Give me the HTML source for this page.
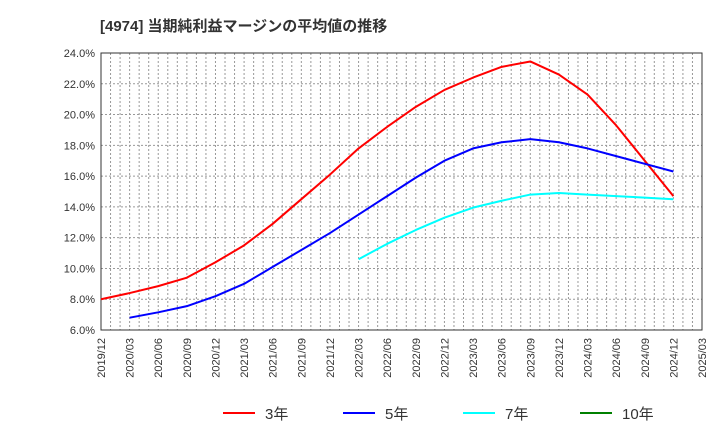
<!DOCTYPE html>
<html><head><meta charset="utf-8"><style>
body{margin:0;background:#fff;font-family:"Liberation Sans","Noto Sans CJK JP",sans-serif}
svg text{font-family:"Liberation Sans","Noto Sans CJK JP",sans-serif}
</style></head><body>
<svg id="c" width="720" height="440" xmlns="http://www.w3.org/2000/svg">
<text x="100" y="31" font-size="15" font-weight="bold" fill="#333">[4974]  当期純利益マージンの平均値の推移</text>
<g id="grid"></g><g id="axes"></g><g id="series"></g><g id="legend"></g>
</svg>
<script>
const xLabels=["2019/12","2020/03","2020/06","2020/09","2020/12","2021/03","2021/06","2021/09","2021/12","2022/03","2022/06","2022/09","2022/12","2023/03","2023/06","2023/09","2023/12","2024/03","2024/06","2024/09","2024/12","2025/03"];
const yTicks=[6,8,10,12,14,16,18,20,22,24];
const s3=[8.0,8.4,8.85,9.4,10.4,11.5,12.9,14.5,16.1,17.8,19.2,20.5,21.6,22.4,23.1,23.45,22.6,21.3,19.3,17.0,14.7];
const s5=[null,6.8,7.15,7.55,8.2,9.0,10.1,11.2,12.3,13.5,14.7,15.9,17.0,17.8,18.2,18.4,18.2,17.8,17.3,16.8,16.3];
const s7=[null,null,null,null,null,null,null,null,null,10.6,11.6,12.5,13.3,13.95,14.4,14.8,14.9,14.8,14.7,14.6,14.5];
const s10=[];
const L=101,R=702,T=53,B=330,NS="http://www.w3.org/2000/svg";
const xs=i=>L+i*3*(R-L)/63;
const ys=v=>B-(v-6)/18*(B-T);
function mk(t,a,p){const e=document.createElementNS(NS,t);for(const k in a)e.setAttribute(k,a[k]);p.appendChild(e);return e;}
const g=document.getElementById('grid'),ax=document.getElementById('axes'),se=document.getElementById('series'),lg=document.getElementById('legend');
for(let m=1;m<63;m++){const x=L+m*(R-L)/63;const l=mk('line',{x1:x,x2:x,y1:T,y2:B,stroke:'#999','stroke-dasharray':'2,2','stroke-width':1},g);

}
yTicks.forEach(v=>{const y=ys(v);const l=mk('line',{x1:L,x2:R,y1:y,y2:y,stroke:'#999','stroke-dasharray':'2,2','stroke-width':1},g);


const t=mk('text',{x:L-6,y:y+4,'text-anchor':'end','font-size':11,fill:'#333'},ax);t.textContent=v.toFixed(1)+'%';

});
const fr=mk('rect',{x:L,y:T,width:R-L,height:B-T,fill:'none',stroke:'#333','stroke-width':1},ax);


xLabels.forEach((s,i)=>{const x=xs(i);const t=mk('text',{transform:`translate(${x+4},${B+8}) rotate(-90)`,'text-anchor':'end','font-size':11,fill:'#333'},ax);t.textContent=s;

});
function line(arr,col,name){const pts=[];arr.forEach((v,i)=>{if(v!=null)pts.push(xs(i)+','+ys(v));});if(!pts.length)return;
const p=mk('polyline',{points:pts.join(' '),fill:'none',stroke:col,'stroke-width':2,'stroke-linejoin':'round'},se);

}
line(s3,'#ff0000','series-3y');line(s5,'#0000ff','series-5y');line(s7,'#00ffff','series-7y');line(s10,'#008000','series-10y');
[['3年','#ff0000',223],['5年','#0000ff',343],['7年','#00ffff',463],['10年','#008000',580]].forEach(([n,c,x])=>{
const gg=mk('g',{},lg);


mk('line',{x1:x,x2:x+32,y1:413,y2:413,stroke:c,'stroke-width':2},gg);
const t=mk('text',{x:x+42,y:419,'font-size':15,fill:'#333'},gg);t.textContent=n;});
</script>
</body></html>
